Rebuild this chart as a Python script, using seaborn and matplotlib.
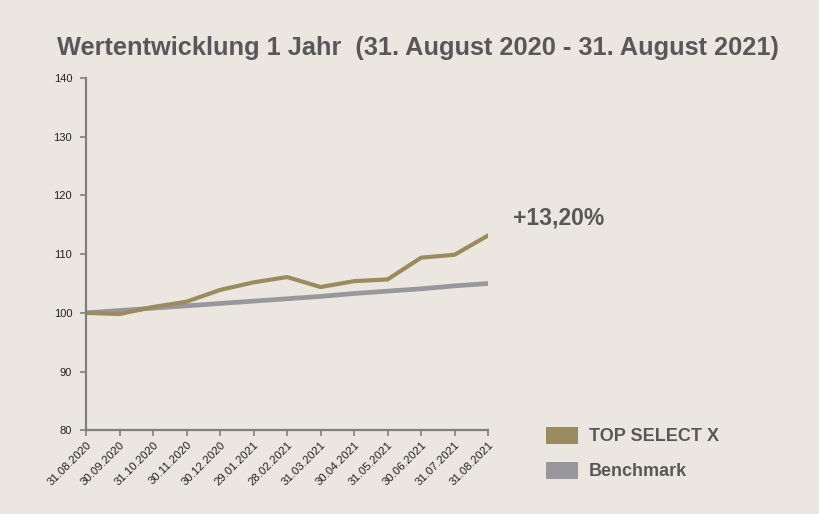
import pandas as pd
import matplotlib
matplotlib.use("Agg")
import matplotlib.pyplot as plt
from matplotlib.patches import Patch
import seaborn as sns

# Data
dates = ["31.08.2020", "30.09.2020", "31.10.2020", "30.11.2020", "30.12.2020",
         "29.01.2021", "28.02.2021", "31.03.2021", "30.04.2021", "31.05.2021",
         "30.06.2021", "31.07.2021", "31.08.2021"]
top_select = [100.0, 99.8, 101.0, 101.9, 103.9, 105.2, 106.1, 104.4, 105.4, 105.7,
              109.4, 109.9, 113.2]
benchmark = [100.0, 100.4, 100.8, 101.2, 101.6, 102.0, 102.4, 102.8, 103.3, 103.7,
             104.1, 104.6, 105.0]
y_ticks = [80, 90, 100, 110, 120, 130, 140]

BG = "#ebe7e0"
GOLD = "#9b8c60"
GREY = "#97979c"
TEXT = "#58585a"
AXIS = "#7f7f7f"

sns.set_theme(style="white")
plt.rcParams["font.family"] = ["Liberation Sans", "DejaVu Sans"]

df = pd.DataFrame({"Datum": dates, "TOP SELECT X": top_select, "Benchmark": benchmark})
df["pos"] = range(len(df))

fig = plt.figure(figsize=(8.19, 5.14), dpi=100, facecolor=BG)
ax = fig.add_axes([0.105, 0.163, 0.491, 0.685])
ax.set_facecolor(BG)

sns.lineplot(data=df, x="pos", y="Benchmark", color=GREY, linewidth=3.4, ax=ax, sort=False)
sns.lineplot(data=df, x="pos", y="TOP SELECT X", color=GOLD, linewidth=3.0, ax=ax, sort=False)

ax.set_xlim(0, len(dates) - 1)
ax.set_ylim(80, 140)
ax.set_yticks(y_ticks)
ax.set_yticklabels([str(t) for t in y_ticks], fontsize=8, color="#222222")
ax.set_xticks(df["pos"])
ax.set_xticklabels(dates, rotation=45, ha="right", rotation_mode="anchor",
                   fontsize=8.2, color="#222222")
ax.set_xlabel("")
ax.set_ylabel("")

for side in ["top", "right"]:
    ax.spines[side].set_visible(False)
for side in ["left", "bottom"]:
    ax.spines[side].set_color(AXIS)
    ax.spines[side].set_linewidth(1.6)
ax.tick_params(axis="both", which="both", length=4, width=1.2, color=AXIS,
               left=True, bottom=True)
ax.tick_params(axis="y", pad=6)
ax.tick_params(axis="x", pad=3)

fig.text(0.07, 0.907, "Wertentwicklung 1 Jahr  (31. August 2020 - 31. August 2021)",
         fontsize=18.3, color=TEXT, fontweight="bold", ha="left", va="center")

ax.annotate("+13,20%", xy=(1.0, 0.0), xycoords="axes fraction", xytext=(513, 514 - 218),
            textcoords="figure pixels", fontsize=16.5, color=TEXT, fontweight="bold",
            ha="left", va="center")

handles = [Patch(facecolor=GOLD, edgecolor="none"), Patch(facecolor=GREY, edgecolor="none")]
fig.legend(handles, ["TOP SELECT X", "Benchmark"], loc="center left",
           bbox_to_anchor=(0.6466, 0.1177), frameon=False,
           labelcolor=TEXT, prop={"weight": "bold", "size": 13},
           handlelength=1.77, handleheight=1.1, handletextpad=0.6, labelspacing=0.9)

fig.savefig("out.png", dpi=100, facecolor=BG)
